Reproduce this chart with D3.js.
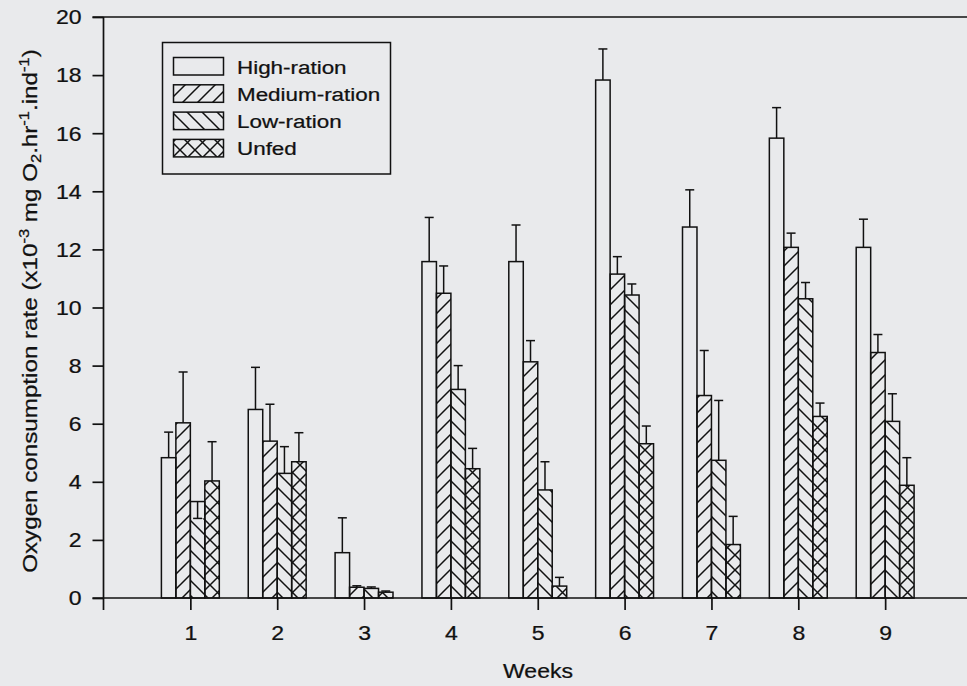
<!DOCTYPE html>
<html>
<head>
<meta charset="utf-8">
<script src="https://cdn.jsdelivr.net/npm/d3@7"></script>
<style>
  html, body { margin: 0; padding: 0; background: #e9eaec; }
  svg { display: block; font-family: "Liberation Sans", Arial, sans-serif; }
  text { stroke: #111; stroke-width: 0.25px; }
</style>
</head>
<body>
<div id="chart"></div>
<script>
// values (mean, SE)
const weeks = [1, 2, 3, 4, 5, 6, 7, 8, 9];
const series = ['High-ration', 'Medium-ration', 'Low-ration', 'Unfed'];
const high = [4.83, 6.49, 1.56, 11.58, 11.58, 17.83, 12.77, 15.83, 12.07];
const highSE = [0.88, 1.45, 1.20, 1.52, 1.26, 1.07, 1.28, 1.05, 0.97];
const medium = [6.03, 5.40, 0.37, 10.49, 8.13, 11.15, 6.97, 12.07, 8.45];
const mediumSE = [1.75, 1.27, 0.05, 0.94, 0.73, 0.60, 1.55, 0.49, 0.62];
const low = [3.32, 4.29, 0.33, 7.18, 3.72, 10.43, 4.74, 10.30, 6.08];
const lowSE = [-0.58, 0.92, 0.05, 0.82, 0.97, 0.38, 2.06, 0.56, 0.95];
const unfed = [4.03, 4.69, 0.20, 4.45, 0.41, 5.31, 1.84, 6.25, 3.88];
const unfedSE = [1.35, 1.00, 0.04, 0.70, 0.30, 0.61, 0.97, 0.46, 0.95];
const yTicks = [0, 2, 4, 6, 8, 10, 12, 14, 16, 18, 20];

const width = 967;
const height = 686;
const ink = '#111';
const sx = 1.18; // scanned text is a bit wider than Arial

const values = [high, medium, low, unfed];
const errors = [highSE, mediumSE, lowSE, unfedSE];
const fills = ['none', 'url(#fwd)', 'url(#back)', 'url(#cross)'];

const rows = [];
weeks.forEach((w, i) => {
  series.forEach((s, j) => {
    rows.push({ week: w, k: j, v: values[j][i], se: errors[j][i] });
  });
});

const svg = d3.select('#chart')
  .append('svg')
  .attr('width', width)
  .attr('height', height);

const x = d3.scaleLinear().domain([0, 10]).range([103.5, 972]);
const y = d3.scaleLinear().domain([0, 20]).range([598, 17]);
const bw = x(1 / 6) - x(0);

// hatch patterns
const defs = svg.append('defs');
function hatch(id, d) {
  defs.append('pattern')
    .attr('id', id)
    .attr('patternUnits', 'userSpaceOnUse')
    .attr('width', 15).attr('height', 15)
    .append('path')
      .attr('d', d)
      .attr('stroke', ink)
      .attr('stroke-width', 1.5)
      .attr('fill', 'none');
}
const fwd = 'M0,15L15,0M-4,4L4,-4M11,19L19,11';
const back = 'M0,0L15,15M-4,11L4,19M11,-4L19,4';
hatch('fwd', fwd);
hatch('back', back);
hatch('cross', fwd + back);

// frame
svg.append('line')
  .attr('x1', x(0) - 11).attr('x2', width)
  .attr('y1', y(20)).attr('y2', y(20))
  .attr('stroke', ink).attr('stroke-width', 1.7);
svg.append('line')
  .attr('x1', x(0) - 11).attr('x2', width)
  .attr('y1', y(0)).attr('y2', y(0))
  .attr('stroke', ink).attr('stroke-width', 1.7);
svg.append('line')
  .attr('x1', x(0)).attr('x2', x(0))
  .attr('y1', y(20)).attr('y2', y(0) + 12)
  .attr('stroke', ink).attr('stroke-width', 1.7);

// bars
const barX = d => x(d.week) + (d.k - 2) * bw;
const lowEnd = d => Math.min(d.v, d.v + d.se);

const bars = svg.append('g');
bars.selectAll('rect.fill')
  .data(rows)
  .join('rect')
    .attr('class', 'fill')
    .attr('x', barX)
    .attr('y', d => y(lowEnd(d)))
    .attr('width', bw)
    .attr('height', d => y(0) - y(lowEnd(d)))
    .attr('fill', d => fills[d.k]);
bars.selectAll('rect.edge')
  .data(rows)
  .join('rect')
    .attr('class', 'edge')
    .attr('x', barX)
    .attr('y', d => y(d.v))
    .attr('width', bw)
    .attr('height', d => y(0) - y(d.v))
    .attr('fill', 'none')
    .attr('stroke', ink)
    .attr('stroke-width', 1.5);

// error bars
const err = svg.append('g').attr('stroke', ink).attr('stroke-width', 1.5);
err.selectAll('line.stem')
  .data(rows)
  .join('line')
    .attr('x1', d => barX(d) + bw / 2)
    .attr('x2', d => barX(d) + bw / 2)
    .attr('y1', d => y(d.v))
    .attr('y2', d => y(d.v + d.se));
err.selectAll('line.cap')
  .data(rows)
  .join('line')
    .attr('x1', d => barX(d) + bw / 2 - 4.5)
    .attr('x2', d => barX(d) + bw / 2 + 4.5)
    .attr('y1', d => y(d.v + d.se))
    .attr('y2', d => y(d.v + d.se));

// axes
const yAxis = svg.append('g')
  .attr('transform', `translate(${x(0)},0)`)
  .call(d3.axisLeft(y).tickValues(yTicks).tickSize(11).tickSizeOuter(0));
const xAxis = svg.append('g')
  .attr('transform', `translate(0,${y(0)})`)
  .call(d3.axisBottom(x).tickValues(weeks).tickSize(12).tickSizeOuter(0).tickFormat(d3.format('d')));

[yAxis, xAxis].forEach(g => {
  g.select('.domain').remove();
  g.selectAll('.tick line').attr('stroke', ink).attr('stroke-width', 1.7);
  g.selectAll('.tick text')
    .attr('fill', ink)
    .attr('font-size', 19.5)
    .attr('font-family', '"Liberation Sans", Arial, sans-serif');
});
yAxis.selectAll('.tick text')
  .attr('x', 0).attr('dy', '0.35em')
  .attr('transform', `translate(-22,0) scale(${sx},1)`);
xAxis.selectAll('.tick text')
  .attr('y', 0).attr('dy', '0.71em')
  .attr('transform', `translate(0,28) scale(${sx},1)`);

// axis titles
function label(tx, ty, rot, anchor, size) {
  return svg.append('text')
    .attr('transform', `translate(${tx},${ty}) rotate(${rot}) scale(${sx},1)`)
    .attr('text-anchor', anchor)
    .attr('font-size', size)
    .attr('fill', ink);
}
label(538, 678, 0, 'middle', 19.5).text('Weeks');

const yt = label(37, 311, -90, 'middle', 20.5);
const parts = [
  ['Oxygen consumption rate (x10', 0], ['-3', 1], [' mg O', 0], ['2', -1],
  ['.hr', 0], ['-1', 1], ['.ind', 0], ['-1', 1], [')', 0]
];
parts.forEach(([t, s]) => {
  yt.append('tspan')
    .attr('font-size', s ? 14 : 20.5)
    .attr('baseline-shift', s > 0 ? '62%' : s < 0 ? '-25%' : null)
    .text(t);
});

// legend
const legend = svg.append('g');
legend.append('rect')
  .attr('x', 162.5).attr('y', 42.5)
  .attr('width', 228).attr('height', 131.5)
  .attr('fill', 'none').attr('stroke', ink).attr('stroke-width', 1.5);
series.forEach((s, j) => {
  const top = 57.5 + j * 27.3;
  legend.append('rect')
    .attr('x', 173.5).attr('y', top)
    .attr('width', 50).attr('height', 17.5)
    .attr('fill', fills[j]);
  legend.append('rect')
    .attr('x', 173.5).attr('y', top)
    .attr('width', 50).attr('height', 17.5)
    .attr('fill', 'none').attr('stroke', ink).attr('stroke-width', 1.5);
  legend.append('text')
    .attr('transform', `translate(237,${top + 16}) scale(${sx},1)`)
    .attr('font-size', 19)
    .attr('fill', ink)
    .text(s);
});
</script>
</body>
</html>
